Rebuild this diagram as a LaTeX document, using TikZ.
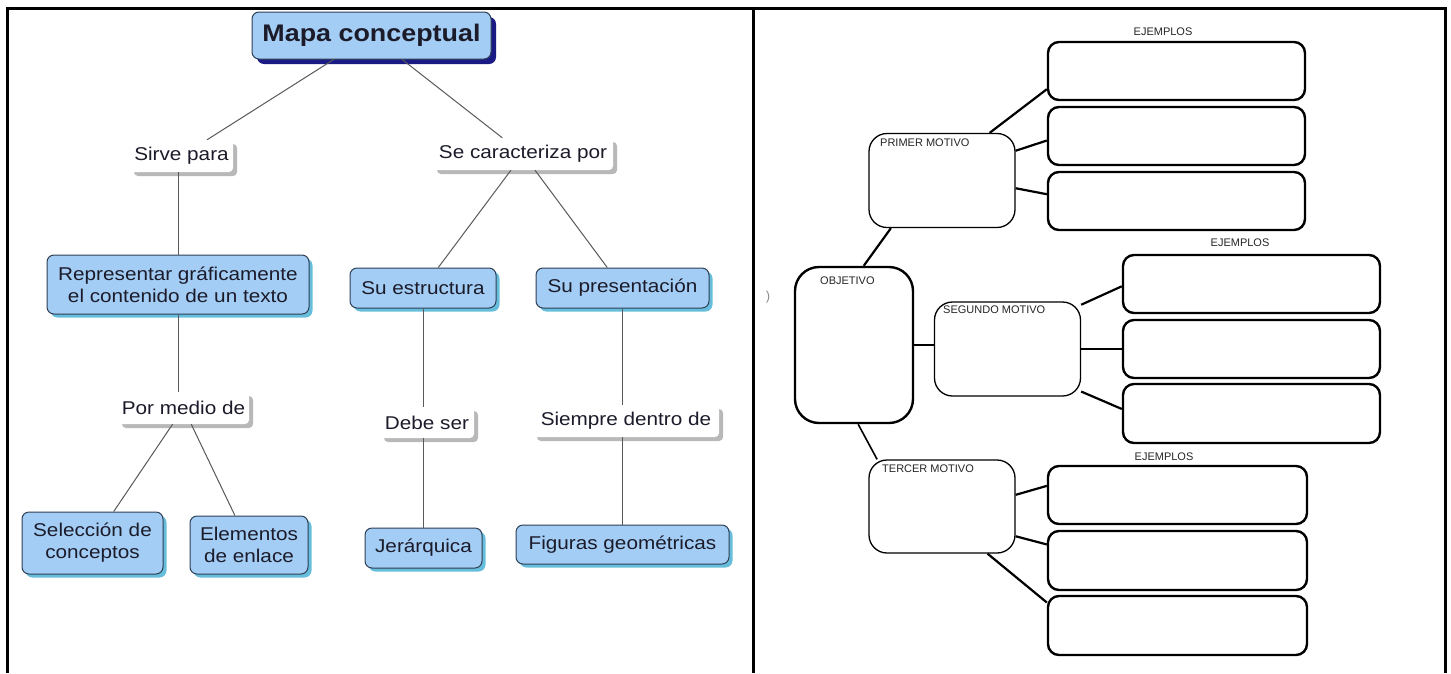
\documentclass[tikz,border=0pt]{standalone}
\usepackage{fontspec}
\setmainfont{Liberation Sans}
\newfontfamily\cmfont[FakeStretch=1.12]{Liberation Sans}
\usetikzlibrary{shadows,calc}
\definecolor{cfill}{HTML}{A3CDF5}
\definecolor{cborder}{HTML}{2F3F55}
\definecolor{cshadow}{HTML}{4DB3D6}
\definecolor{tshadow}{HTML}{1A1A85}
\definecolor{lshadow}{HTML}{B8B8B8}
\definecolor{ctext}{HTML}{1B1B2A}
\begin{document}
\begin{tikzpicture}[x=1pt,y=-1pt,
  cbase/.style={draw=cborder, line width=1pt, fill=cfill, rounded corners=7pt, align=center, inner sep=0pt, text=ctext, font=\cmfont\fontsize{18.5}{22}\selectfont},
  concept/.style={cbase, drop shadow={shadow xshift=3.5pt, shadow yshift=-3.5pt, fill=cshadow, opacity=0.85}},
  titlebox/.style={cbase, font=\cmfont\bfseries\fontsize{24}{28}\selectfont, drop shadow={shadow xshift=5pt, shadow yshift=-5pt, fill=tshadow, opacity=1}},
  linkp/.style={fill=white, inner sep=0pt, rounded corners=4pt, text=ctext, font=\cmfont\fontsize{18.5}{22}\selectfont, drop shadow={shadow xshift=4pt, shadow yshift=-4pt, fill=lshadow, opacity=1}},
  conn/.style={draw=black!65, line width=1pt},
  exbox/.style={draw=black, line width=2.4pt, rounded corners=11pt, inner sep=0pt, minimum width=257pt, minimum height=58pt},
  mbox/.style={draw=black, line width=1.3pt, rounded corners=18pt, inner sep=0pt, minimum width=146pt, minimum height=94pt},
  rconn/.style={draw=black, line width=2.2pt},
  lbl/.style={font=\fontsize{11}{13}\selectfont, inner sep=0pt, anchor=west, text=black!85},
  exlbl/.style={font=\fontsize{11}{13}\selectfont, inner sep=0pt, text=black!85},
  frame/.style={draw=black, line width=3pt}
]
\useasboundingbox (0,0) rectangle (1451,673);
\fill[white] (0,0) rectangle (1451,673);

% frame
\draw[frame] (7,673) -- (7,8) -- (1445,8) -- (1445,673);
\draw[frame] (753,8) -- (753,673);

% ---------- left: concept map ----------
\node[titlebox, minimum width=239pt, minimum height=47pt] (mapa) at (371.5,35.5) {Mapa conceptual};

\node[linkp, minimum width=103pt, minimum height=32pt] (sirve) at (181.5,156) {Sirve para};
\node[linkp, minimum width=180pt, minimum height=32pt] (secar) at (523,154) {Se caracteriza por};

\node[concept, minimum width=262pt, minimum height=59pt] (rep) at (178,284.5) {Representar gráficamente\\el contenido de un texto};
\node[concept, minimum width=146pt, minimum height=40pt] (sue) at (423,288) {Su estructura};
\node[concept, minimum width=173pt, minimum height=40pt] (sup) at (622.5,288) {Su presentación};

\node[linkp, minimum width=131pt, minimum height=32pt] (pmd) at (183.5,408) {Por medio de};
\node[linkp, minimum width=94pt, minimum height=31pt] (debe) at (427,422.5) {Debe ser};
\node[linkp, minimum width=186pt, minimum height=32pt] (siem) at (626,421) {Siempre dentro de};

\node[concept, minimum width=141pt, minimum height=62pt] (sel) at (92.5,543) {Selección de\\conceptos};
\node[concept, minimum width=118pt, minimum height=58pt] (ele) at (249,545) {Elementos\\de enlace};
\node[concept, minimum width=117pt, minimum height=40pt] (jer) at (423.5,548) {Jerárquica};
\node[concept, minimum width=213pt, minimum height=39pt] (fig) at (622.5,544.5) {Figuras geométricas};

\begin{scope}[on background layer/.style={}]
\draw[conn] (mapa) -- (sirve);
\draw[conn] (mapa) -- (secar);
\draw[conn] (sirve.south -| rep.north) -- (rep.north);
\draw[conn] (secar) -- (sue);
\draw[conn] (secar) -- (sup);
\draw[conn] (rep.south) -- (pmd.north -| rep.south);
\draw[conn] (sue.south) -- (debe.north -| sue.south);
\draw[conn] (sup.south) -- (siem.north -| sup.south);
\draw[conn] (pmd) -- (sel);
\draw[conn] (pmd) -- (ele);
\draw[conn] (debe.south -| jer.north) -- (jer.north);
\draw[conn] (siem.south -| fig.north) -- (fig.north);
\end{scope}

% ---------- right: blank organizer ----------
\node[text=black!45, font=\fontsize{13}{15}\selectfont, inner sep=0pt] (paren) at (768,297) {)};

\node[draw=black, line width=2.4pt, rounded corners=24pt, inner sep=0pt, minimum width=118pt, minimum height=156pt] (obj) at (854,345) {};
\node[lbl] (objl) at (820,281) {OBJETIVO};

\node[mbox] (pm) at (942,180.5) {};
\node[lbl] (pml) at (880,143) {PRIMER MOTIVO};
\node[mbox] (sm) at (1007.5,349) {};
\node[lbl] (sml) at (943,310) {SEGUNDO MOTIVO};
\node[mbox, minimum height=93pt] (tm) at (942,506.5) {};
\node[lbl] (tml) at (882,469) {TERCER MOTIVO};

\node[exlbl] (ej1) at (1163,32) {EJEMPLOS};
\node[exbox] (e1a) at (1176.5,71) {};
\node[exbox] (e1b) at (1176.5,136) {};
\node[exbox] (e1c) at (1176.5,201) {};

\node[exlbl] (ej2) at (1240,243) {EJEMPLOS};
\node[exbox] (e2a) at (1251.5,284) {};
\node[exbox] (e2b) at (1251.5,349) {};
\node[exbox, minimum height=59pt] (e2c) at (1251.5,413.5) {};

\node[exlbl] (ej3) at (1164,457) {EJEMPLOS};
\node[exbox, minimum width=259pt] (e3a) at (1177.5,495) {};
\node[exbox, minimum width=259pt, minimum height=59pt] (e3b) at (1177.5,560.5) {};
\node[exbox, minimum width=259pt, minimum height=59pt] (e3c) at (1177.5,625.5) {};

\draw[rconn] (obj.83) -- (pm.223);
\draw[rconn] (pm.45) -- (e1a.188);
\draw[rconn] (pm.22.7) -- (e1b.182.7);
\draw[rconn] (pm.354) -- (e1c.177.3);

\draw[rconn] (sm.west |- obj.east) -- (obj.east);
\draw[rconn] (sm.31) -- (e2a.181.3);
\draw[rconn] (sm.east) -- (e2b.west);
\draw[rconn] (sm.330.7) -- (e2c.178.4);

\draw[rconn, line width=1.6pt] (obj.273) -- (tm.144);
\draw[rconn] (tm.9) -- (e3a.176.9);
\draw[rconn] (tm.338) -- (e3b.173.2);
\draw[rconn] (tm.314) -- (e3c.170);
\end{tikzpicture}
\end{document}
